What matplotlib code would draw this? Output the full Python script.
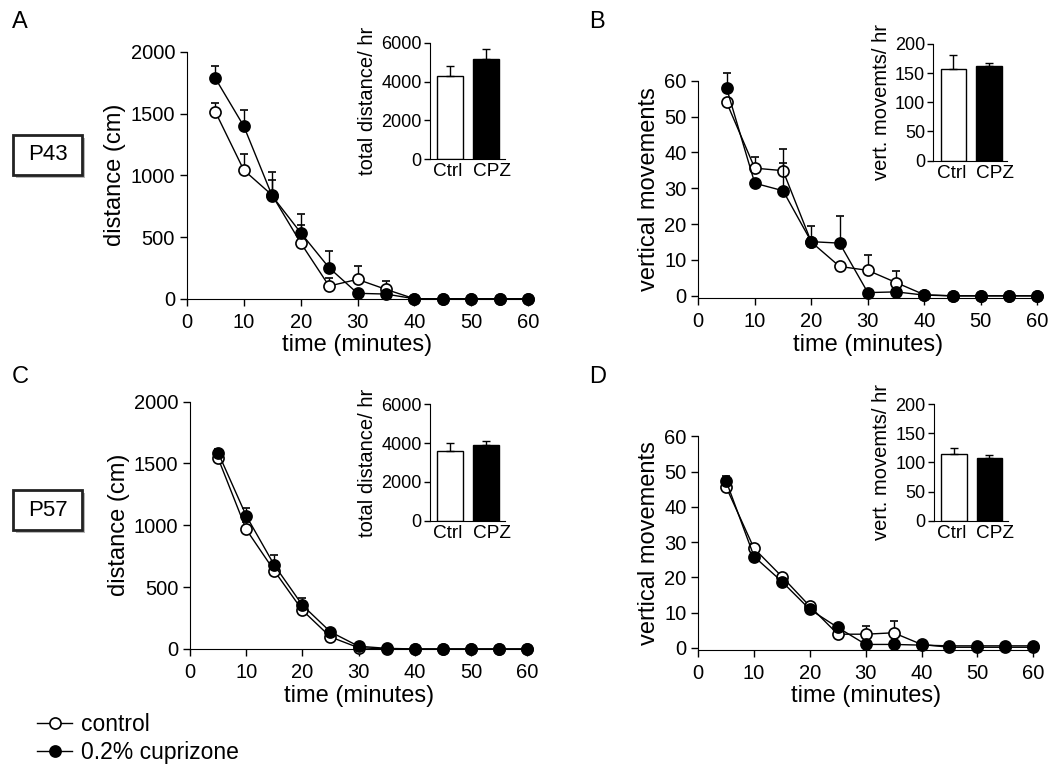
import numpy as np
import matplotlib
matplotlib.use("Agg")
import matplotlib.pyplot as plt
import matplotlib.patheffects as pe
from matplotlib.lines import Line2D
from matplotlib.patches import Rectangle

plt.rcParams['font.family'] = ['Liberation Sans', 'DejaVu Sans']

# time points (minutes)
t = [5, 10, 15, 20, 25, 30, 35, 40, 45, 50, 55, 60]

# P43 distance (cm)
ctrl_A = [1514, 1042, 838, 453, 103, 157, 76, 0, 0, 0, 0, 0]
ctrl_A_err = [73, 129, 120, 142, 65, 107, 70, 0, 0, 0, 0, 0]
cpz_A = [1785, 1398, 832, 535, 251, 44, 38, 0, 0, 0, 0, 0]
cpz_A_err = [100, 130, 197, 148, 135, 20, 20, 0, 0, 0, 0, 0]

# P43 vertical movements
ctrl_B = [54.0, 35.6, 34.9, 15.0, 8.2, 7.1, 3.7, 0.3, 0, 0, 0, 0]
ctrl_B_err = [1.0, 3.0, 6.0, 4.5, 1.0, 4.3, 3.3, 0.3, 0, 0, 0, 0]
cpz_B = [58.0, 31.4, 29.3, 15.1, 14.7, 0.9, 1.1, 0.2, 0, 0, 0, 0]
cpz_B_err = [4.0, 1.0, 7.8, 1.0, 7.6, 0.3, 0.3, 0, 0, 0, 0, 0]

# P57 distance (cm)
ctrl_C = [1542, 967, 632, 313, 97, 10, 0, 0, 0, 0, 0, 0]
ctrl_C_err = [30, 60, 60, 50, 20, 5, 0, 0, 0, 0, 0, 0]
cpz_C = [1587, 1077, 678, 354, 138, 22, 5, 0, 0, 0, 0, 0]
cpz_C_err = [27, 60, 80, 60, 20, 10, 0, 0, 0, 0, 0, 0]

# P57 vertical movements
ctrl_D = [45.6, 28.2, 20.2, 11.8, 3.9, 3.9, 4.3, 1.0, 0.2, 0.2, 0.2, 0.2]
ctrl_D_err = [1.0, 1.4, 0.8, 0.8, 0.8, 2.3, 3.3, 0.5, 0, 0, 0, 0]
cpz_D = [47.3, 25.9, 18.8, 10.9, 5.8, 1.0, 1.0, 0.8, 0.6, 0.6, 0.6, 0.6]
cpz_D_err = [1.3, 0.8, 0.8, 0.8, 0.8, 0.3, 0.3, 0.2, 0, 0, 0, 0]

# insets (per hour totals)
groups = ['Ctrl', 'CPZ']
bar_A = [4286, 5161]
bar_A_err = [515, 499]
bar_B = [156.6, 162.3]
bar_B_err = [24, 5.7]
bar_C = [3611, 3904]
bar_C_err = [379, 223]
bar_D = [114.6, 108.2]
bar_D_err = [10.9, 4.7]

FS_LAB = 17
FS_TICK = 14.5
FS_IN = 13
FS_IN_LAB = 14.5

fig = plt.figure(figsize=(10.5, 7.68), dpi=100)


def main_panel(rect, ctrl, ctrl_err, cpz, cpz_err, ylim, yticks, ylabel):
    ax = fig.add_axes(rect)
    z = np.zeros(len(t))
    ax.errorbar(t, ctrl, yerr=[z, ctrl_err], color='black', lw=1, capsize=3,
                capthick=1, elinewidth=1, marker='o', ms=8, mfc='white',
                mec='black', mew=1.2, clip_on=False, zorder=2)
    ax.errorbar(t, cpz, yerr=[z, cpz_err], color='black', lw=1, capsize=3,
                capthick=1, elinewidth=1, marker='o', ms=8, mfc='black',
                mec='black', mew=1.2, clip_on=False, zorder=3)
    ax.set_xlim(0, 60)
    ax.set_ylim(*ylim)
    ax.set_xticks(range(0, 61, 10))
    ax.set_yticks(yticks)
    ax.spines['top'].set_visible(False)
    ax.spines['right'].set_visible(False)
    ax.tick_params(labelsize=FS_TICK, length=5, width=1)
    ax.tick_params(axis='x', pad=5)
    ax.set_xlabel('time (minutes)', fontsize=FS_LAB, labelpad=2)
    ax.set_ylabel(ylabel, fontsize=FS_LAB, labelpad=3)
    return ax


def inset(rect, vals, errs, ylim, yticks, ylabel):
    ax = fig.add_axes(rect)
    ax.bar([0, 1], vals, width=0.72, color=['white', 'black'],
           edgecolor='black', lw=1,
           yerr=[[0, 0], errs], capsize=3,
           error_kw=dict(elinewidth=1, capthick=1, ecolor='black'))
    ax.set_xlim(-0.56, 1.52)
    ax.set_ylim(*ylim)
    ax.set_yticks(yticks)
    ax.set_xticks([-0.06, 1.16])
    ax.set_xticklabels(groups)
    ax.spines['top'].set_visible(False)
    ax.spines['right'].set_visible(False)
    ax.tick_params(axis='y', labelsize=FS_IN, length=4, width=1, pad=2)
    ax.tick_params(axis='x', labelsize=FS_IN_LAB - 0.8, length=0, pad=3)
    ax.set_ylabel(ylabel, fontsize=FS_IN_LAB, labelpad=3)
    return ax


main_panel([0.178, 0.611, 0.325, 0.3216], ctrl_A, ctrl_A_err, cpz_A, cpz_A_err,
           (0, 2000), range(0, 2001, 500), 'distance (cm)')
main_panel([0.665, 0.612, 0.323, 0.283], ctrl_B, ctrl_B_err, cpz_B, cpz_B_err,
           (-0.6, 60), range(0, 61, 10), 'vertical movements')
main_panel([0.181, 0.155, 0.321, 0.322], ctrl_C, ctrl_C_err, cpz_C, cpz_C_err,
           (0, 2000), range(0, 2001, 500), 'distance (cm)')
main_panel([0.665, 0.154, 0.319, 0.278], ctrl_D, ctrl_D_err, cpz_D, cpz_D_err,
           (-0.5, 60), range(0, 61, 10), 'vertical movements')

inset([0.4095, 0.7926, 0.0714, 0.1518], bar_A, bar_A_err, (0, 6000),
      range(0, 6001, 2000), 'total distance/ hr')
inset([0.889, 0.7908, 0.0705, 0.152], bar_B, bar_B_err, (0, 200),
      range(0, 201, 50), 'vert. movemts/ hr')
inset([0.4095, 0.322, 0.0714, 0.1516], bar_C, bar_C_err, (0, 6000),
      range(0, 6001, 2000), 'total distance/ hr')
inset([0.8895, 0.322, 0.0705, 0.1516], bar_D, bar_D_err, (0, 200),
      range(0, 201, 50), 'vert. movemts/ hr')

# panel letters
for lbl, x, y in [('A', 12, 28), ('B', 589, 28), ('C', 12, 383), ('D', 589, 383)]:
    fig.text(x / 1050, 1 - y / 768, lbl, fontsize=FS_LAB, va='baseline',
             ha='left')

# age boxes
for lbl, ytop in [('P43', 135), ('P57', 490)]:
    box = Rectangle((13 / 1050, 1 - (ytop + 40) / 768), 69 / 1050, 40 / 768,
                    transform=fig.transFigure, fc='white', ec='#222222',
                    lw=2, zorder=1)
    box.set_path_effects([pe.SimplePatchShadow(offset=(2.5, -2.5),
                                               shadow_rgbFace='#999999',
                                               alpha=0.7), pe.Normal()])
    fig.add_artist(box)
    fig.text(47.5 / 1050, 1 - (ytop + 20) / 768, lbl, fontsize=16,
             ha='center', va='center', zorder=2)

handles = [Line2D([], [], color='black', lw=1, marker='o', ms=8,
                  mfc='white', mec='black', mew=1.2),
           Line2D([], [], color='black', lw=1, marker='o', ms=8,
                  mfc='black', mec='black', mew=1.2)]
fig.legend(handles, ['control', '0.2% cuprizone'], loc='lower left',
           bbox_to_anchor=(0.016, -0.022), frameon=False, fontsize=16.5,
           handlelength=1.5, handletextpad=0.4, labelspacing=0.22)

fig.savefig('out.png', dpi=100)
